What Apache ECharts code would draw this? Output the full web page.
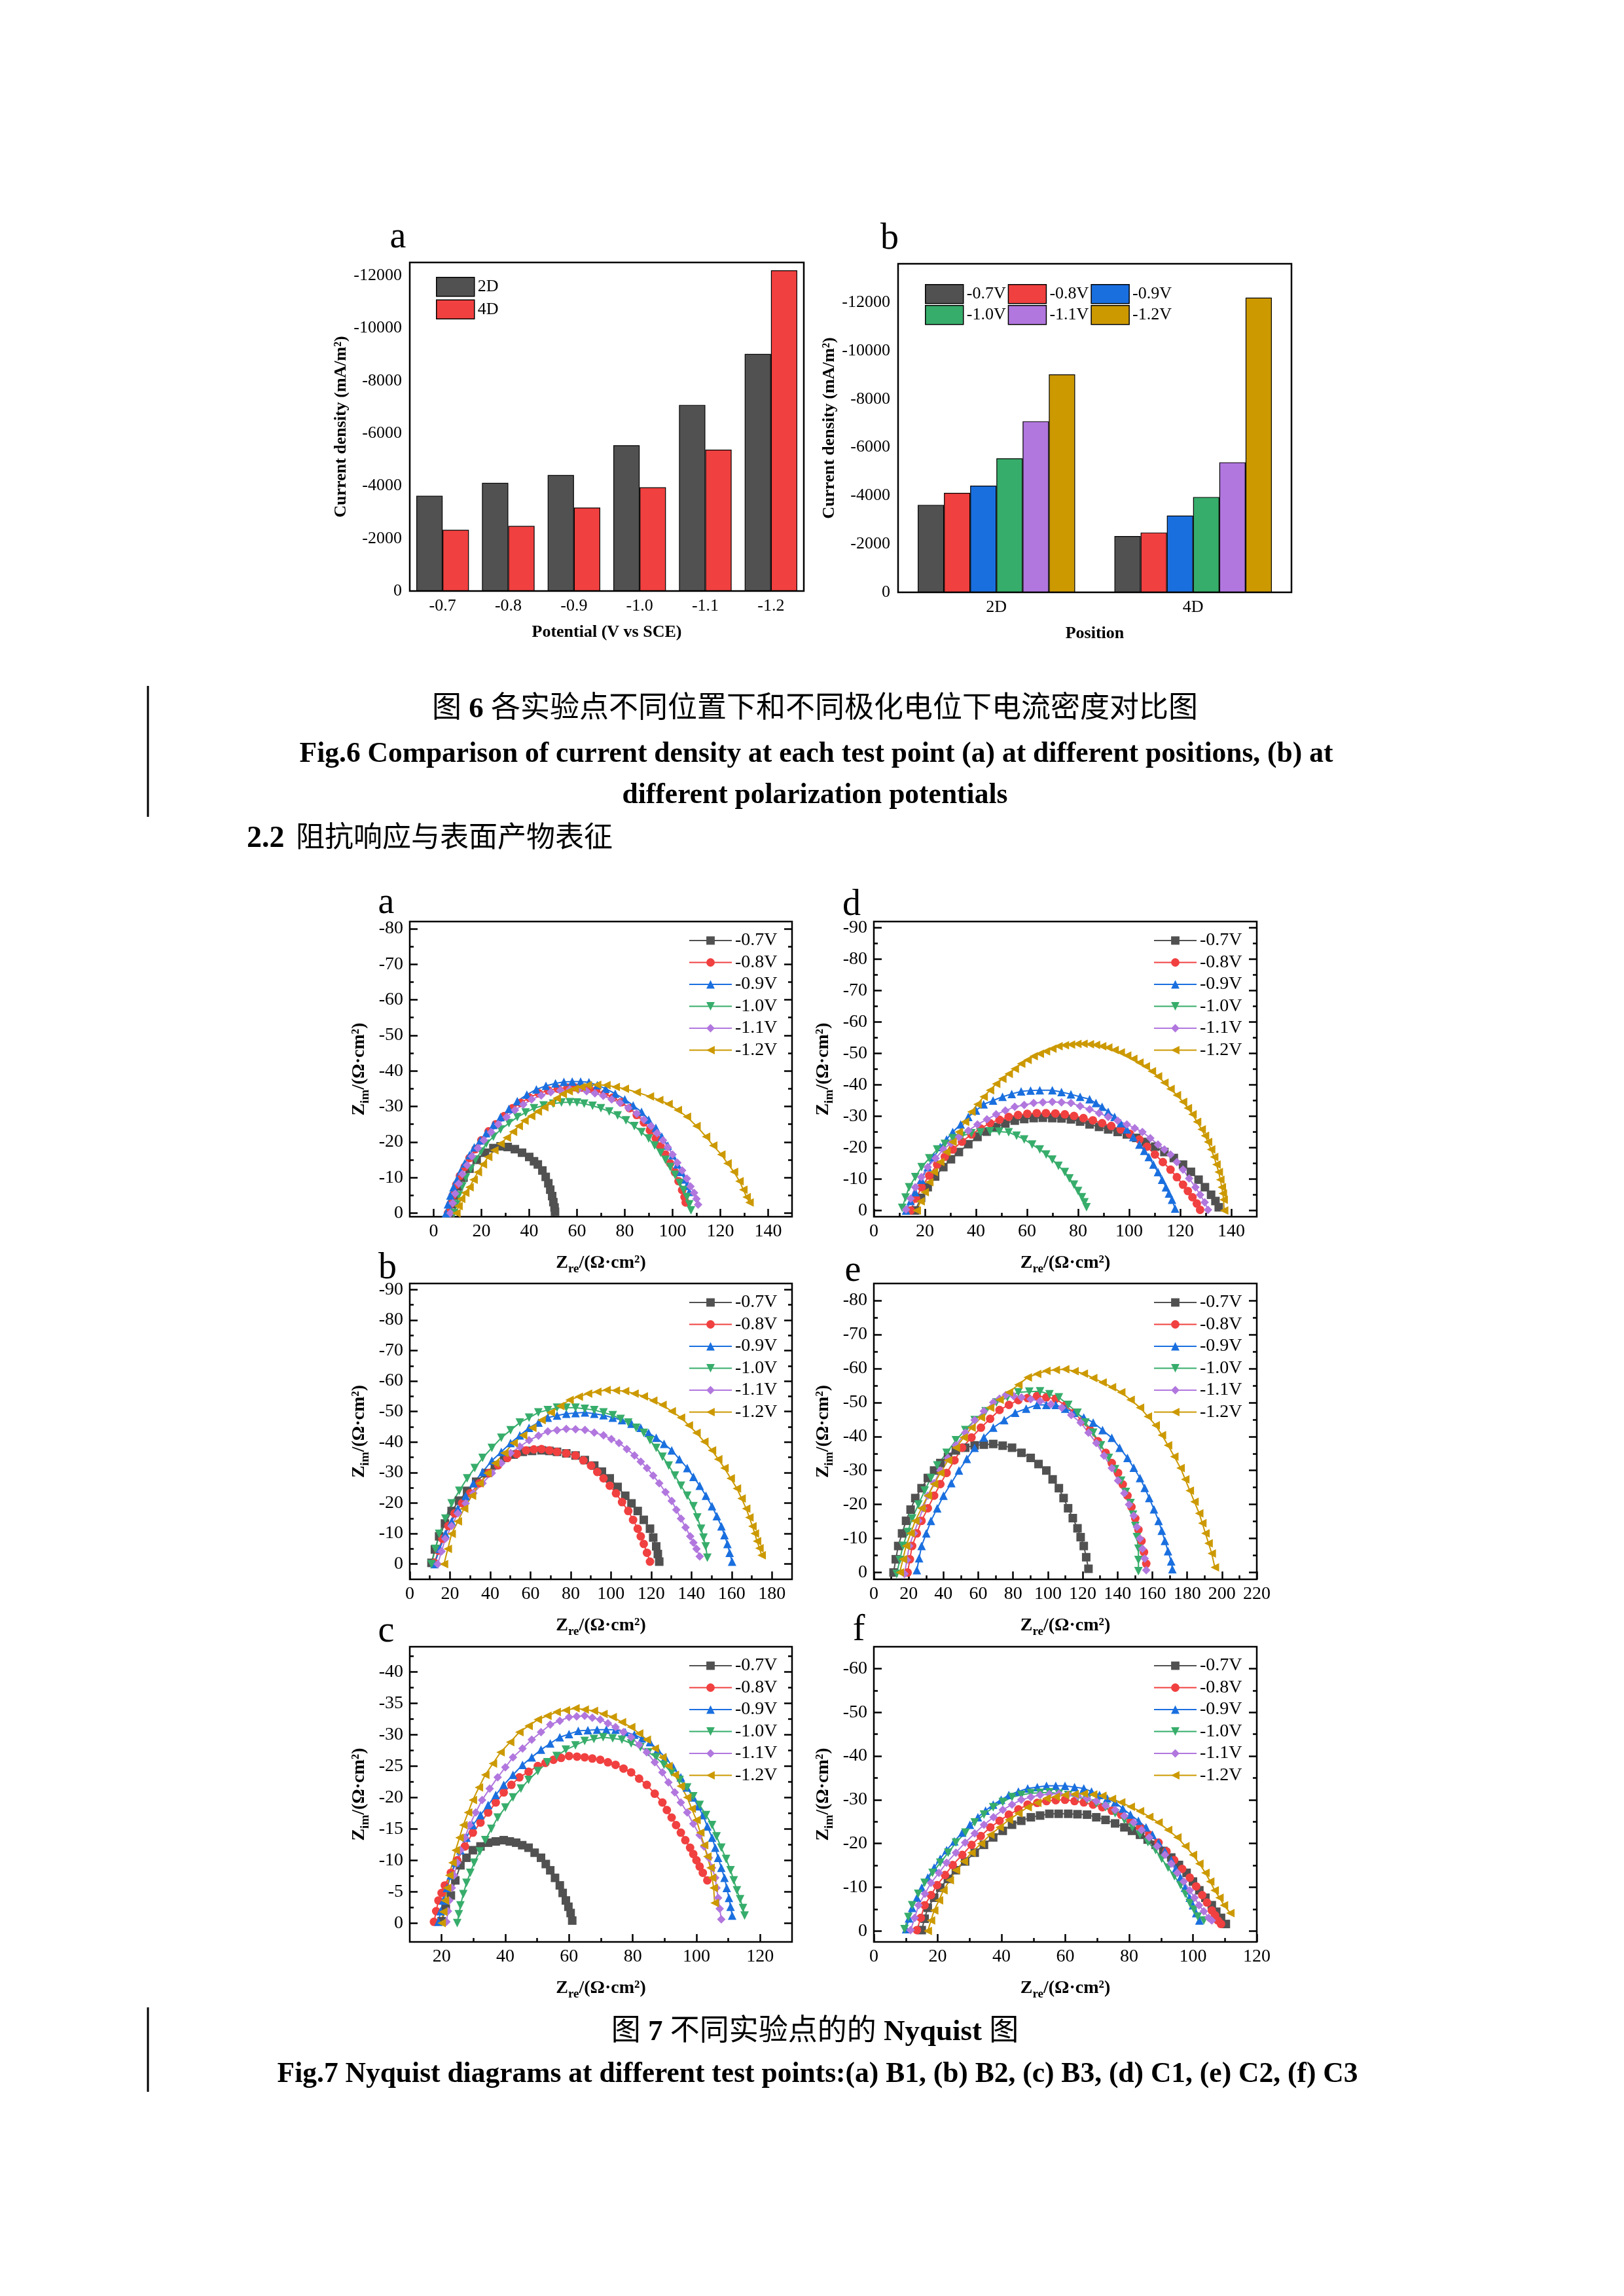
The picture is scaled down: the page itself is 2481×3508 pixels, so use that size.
<!DOCTYPE html>
<html><head><meta charset="utf-8">
<script src="https://cdn.jsdelivr.net/npm/echarts@6/dist/echarts.min.js"></script>
<style>html,body{margin:0;padding:0;background:#fff}#c{width:2481px;height:3508px}</style>
</head><body><div id="c"></div>
<script>
// ---------------- DATA ----------------
const POTENTIALS = ['-0.7V','-0.8V','-0.9V','-1.0V','-1.1V','-1.2V'];
const FIG6A_CATS = ['-0.7','-0.8','-0.9','-1.0','-1.1','-1.2'];
const FIG6_POSITIONS = ['2D','4D'];
const CD_2D = [-3620,-4115,-4415,-5545,-7080,-9020];
const CD_4D = [-2330,-2475,-3175,-3945,-5380,-12200];
const FIG6_YTICKS = [0,-2000,-4000,-6000,-8000,-10000,-12000];
const FIG6A_YMINOR = [-1000,-3000,-5000,-7000,-9000,-11000];
const FIG6B_YMINOR = [-1000,-3000,-5000,-7000,-9000,-11000,-13000];

const X_0_140 = [0,20,40,60,80,100,120,140];
const X_M_10_130 = [10,30,50,70,90,110,130];
const X_0_180 = [0,20,40,60,80,100,120,140,160,180];
const X_M_10_170 = [10,30,50,70,90,110,130,150,170];
const X_0_220 = [0,20,40,60,80,100,120,140,160,180,200,220];
const X_M_10_210 = [10,30,50,70,90,110,130,150,170,190,210];
const X_20_120 = [20,40,60,80,100,120];
const X_M_30_110 = [30,50,70,90,110];
const X_0_120 = [0,20,40,60,80,100,120];
const X_M_10_110 = [10,30,50,70,90,110];
const Y_0_80 = [0,-10,-20,-30,-40,-50,-60,-70,-80];
const Y_M_5_75 = [-5,-15,-25,-35,-45,-55,-65,-75];
const Y_0_90 = [0,-10,-20,-30,-40,-50,-60,-70,-80,-90];
const Y_M_5_85 = [-5,-15,-25,-35,-45,-55,-65,-75,-85];
const Y_0_40 = [0,-5,-10,-15,-20,-25,-30,-35,-40];
const Y_M_25_425 = [-2.5,-7.5,-12.5,-17.5,-22.5,-27.5,-32.5,-37.5,-42.5];
const Y_0_60 = [0,-10,-20,-30,-40,-50,-60];
const Y_M_5_55 = [-5,-15,-25,-35,-45,-55];

// (a) B1
const B1_07 = [[7,0],[7.8,-2.5],[9,-5],[10.5,-7.5],[12.5,-10],[15,-12.5],[18,-15],[21.5,-17],[25,-18.3],[28,-18.8],[31,-18.6],[34,-18],[37,-17],[40,-15.8],[42,-14.6],[43.6,-13.7],[45.5,-12],[46.9,-10.2],[48,-8.4],[48.8,-6.6],[49.6,-4.8],[50.1,-3.1],[50.6,-1.6],[50.8,-0.4]];
const B1_08 = [[6,0],[7,-2.5],[8,-5],[9.5,-8],[11,-10.5],[13,-13],[15,-15.5],[17.5,-18],[20,-20.5],[23,-23],[26,-25],[29.5,-27.3],[33,-29.5],[36.5,-31],[40,-32.5],[44,-33.7],[48,-34.5],[52,-35],[56,-35.3],[59,-35.4],[62,-35.3],[65,-35],[68,-34.5],[71.5,-33.6],[75,-32.5],[78.5,-31.2],[82,-29.5],[85,-27.6],[88,-25.5],[90.5,-23.3],[93,-21],[95,-18.8],[97,-16.5],[99,-14],[101,-11.5],[102.5,-9],[104,-6.5],[105,-4.5],[105.5,-3]];
const B1_09 = [[5.2,0],[6,-2.5],[7,-5],[8.3,-7.3],[9.8,-9.5],[11.3,-11.8],[13,-14],[15,-16.3],[17,-18.5],[19.5,-20.5],[22,-22.5],[25,-24.8],[28,-27],[31.5,-29.3],[35,-31.5],[39,-33.3],[43,-34.8],[47,-35.8],[51,-36.5],[54.5,-36.9],[58,-37],[61.5,-37],[65,-36.8],[68.5,-36],[72,-35],[76,-33.6],[80,-32],[83.5,-30.3],[87,-28.5],[90,-26.3],[93,-24],[95.5,-21.5],[98,-19],[100,-16.3],[102,-13.7],[103.5,-11.6],[105,-9.5],[106,-7.7],[107,-6]];
const B1_10 = [[8.5,0],[9.4,-2.5],[10.5,-5],[12,-7.5],[13.5,-10],[15.5,-12.5],[17.5,-15],[19.8,-17.3],[22,-19.5],[25,-21.5],[28,-23.5],[31.5,-25.3],[35,-27],[38.5,-28.3],[42,-29.5],[46,-30.3],[50,-30.8],[53.5,-31.1],[57,-31.2],[60,-31.1],[63,-30.8],[66.5,-30.2],[70,-29.5],[73.5,-28.6],[77,-27.5],[80.5,-26.1],[84,-24.5],[87,-22.8],[90,-21],[92.5,-19],[95,-17],[97,-15],[99,-13],[101,-10.8],[103,-8.5],[104.6,-6.5],[106,-4.5],[107,-2.5],[107.7,-0.8]];
const B1_11 = [[7,0],[8,-2.8],[9,-5.5],[10.5,-8.3],[12,-11],[14,-13.5],[16,-16],[18.5,-18.3],[21,-20.5],[24,-22.8],[27,-25],[30.5,-27],[34,-29],[37.5,-30.5],[41,-32],[45,-33.1],[49,-34],[53,-34.5],[57,-34.8],[60.5,-34.7],[64,-34.3],[67.5,-33.7],[71,-33],[74.5,-32],[78,-31],[81.5,-29.6],[85,-28],[88,-26.3],[91,-24.5],[93.5,-22.5],[96,-20.5],[98,-18.5],[100,-16.5],[102,-14.2],[104,-12],[106,-9.7],[107.5,-7.5],[109,-5.7],[110,-4],[110.7,-2.4]];
const B1_12 = [[9.5,0],[10.4,-2],[11.5,-4],[13.2,-5.7],[15,-7.3],[16.7,-9.4],[18.5,-11.5],[20.6,-13.7],[22.8,-15.8],[25.4,-17.7],[28,-19.5],[30.6,-21.2],[33.2,-22.9],[35.6,-24.5],[38,-26],[40.8,-27.3],[43.6,-28.6],[46.3,-29.8],[49,-31],[51.5,-32.3],[54,-33.5],[56.5,-34.3],[59,-35],[61.8,-35.5],[64.5,-36],[68.4,-36.1],[72.3,-36],[76.2,-35.5],[80,-35],[85,-34],[90.5,-32.8],[94.4,-31.8],[98.3,-30.7],[102.2,-29],[106,-27.1],[110,-24.5],[114,-21.5],[117,-19],[120.4,-16.5],[123,-14],[125.7,-11.6],[128,-9],[129.6,-6.6],[131,-4.5],[132.2,-3]];

// (d) C1
const C1_07 = [[16.2,0],[18.5,-4],[21.1,-7.4],[24,-10.8],[27.2,-13.8],[30.2,-16.3],[33.3,-18.6],[37,-21.1],[40.6,-23.4],[44.2,-25.1],[47.9,-26.6],[51.5,-27.7],[55.2,-28.6],[58.9,-29.1],[62.6,-29.4],[66.2,-29.5],[69.9,-29.4],[73.5,-29.3],[77.2,-29],[80.8,-28.3],[84.5,-27.4],[88.2,-26.6],[91.8,-25.8],[95.5,-25],[99.1,-24.2],[102.8,-23.1],[106.5,-21.8],[110.2,-20.3],[113.8,-18.6],[117.5,-16.7],[121.1,-14.6],[124.2,-12.3],[127.2,-9.8],[129.7,-7.4],[132.1,-5],[133.8,-3],[135.1,-1]];
const C1_08 = [[14.4,0],[16.5,-3.8],[18.7,-7.4],[21.7,-11.1],[24.8,-14.6],[27.8,-17.1],[30.9,-19.4],[34.5,-21.9],[38.2,-24.2],[41.8,-26.1],[45.5,-27.8],[49.2,-28.9],[52.8,-29.8],[56.5,-30.4],[60.1,-30.8],[63.8,-31],[67.4,-31],[71.1,-30.9],[74.8,-30.6],[78.4,-30.1],[82.1,-29.4],[85.8,-28.7],[89.4,-27.8],[93,-26.9],[96.7,-25.8],[100.3,-24.4],[104,-22.6],[107,-20.3],[110.1,-17.8],[113.2,-15.4],[116.2,-13],[118.7,-10.6],[121.1,-8.2],[123,-6.2],[124.8,-4.2],[126.5,-2.2],[127.8,-0.2]];
const C1_09 = [[12.6,0],[14.4,-3],[16.2,-5.8],[18.6,-9.8],[21.1,-13.8],[23.5,-17],[26,-20.2],[28.5,-22.6],[30.9,-25],[34,-27.4],[37,-29.8],[40,-31.8],[43,-33.8],[46.7,-35],[50.4,-36.2],[54,-37.1],[57.7,-37.9],[61.4,-38.2],[65,-38.3],[69.9,-38.3],[73.5,-37.7],[77.2,-37],[80.8,-36.2],[84.5,-35.4],[87,-34.2],[89.4,-33],[91.8,-31.4],[94.3,-29.8],[96.7,-27.8],[99.1,-25.8],[101.6,-23.4],[104,-21],[105.9,-19],[107.7,-17],[109.5,-14.6],[111.3,-12.2],[112.9,-9.8],[114.4,-7.4],[115.6,-5.4],[116.8,-3.4],[118,-0.6]];
const C1_10 = [[11.1,-0.8],[12.4,-4.1],[13.8,-7.4],[16.2,-10.6],[18.7,-13.8],[21.7,-16.6],[24.8,-19.4],[27.8,-21.2],[30.9,-23],[34.5,-23.8],[38.2,-24.6],[41.8,-24.9],[45.5,-25.2],[49.1,-25.1],[52.8,-24.9],[55.9,-23.8],[58.9,-22.6],[62,-21],[65,-19.4],[67.5,-17.8],[69.9,-16.2],[72.3,-14.2],[74.8,-12.2],[76.6,-10.2],[78.4,-8.2],[80,-6.2],[81.5,-4.2],[82.5,-2.6],[83.3,-1]];
const C1_11 = [[12.6,-0.3],[14.4,-3.8],[16.2,-7.4],[18.6,-10.6],[21.1,-13.8],[24.2,-16.6],[27.2,-19.4],[30.2,-21.4],[33.3,-23.4],[37,-25.4],[40.6,-27.4],[44.3,-29],[47.9,-30.6],[51.5,-31.8],[55.2,-33],[58.9,-33.6],[62.6,-34.2],[66.2,-34.4],[69.9,-34.6],[73.5,-34.4],[77.2,-34.2],[80.8,-33.2],[84.5,-32.2],[88.2,-31],[91.8,-29.8],[95.5,-28.6],[99.1,-27.4],[102.2,-26.2],[105.2,-25],[108.3,-23],[111.3,-21],[113.8,-19.4],[116.2,-17.8],[118.7,-15.4],[121.1,-13],[123.5,-10.2],[126,-7.4],[127.8,-5],[129.6,-2.6],[130.9,-0.2]];
const C1_12 = [[16.8,0],[18.3,-2.9],[19.9,-5.8],[21.7,-9],[23.5,-12.2],[26,-15.4],[28.4,-18.6],[30.8,-21.8],[33.3,-25],[35.7,-28.2],[38.2,-31.4],[40.6,-33.8],[43,-36.2],[45.5,-38.3],[47.9,-40.3],[50.3,-41.9],[52.8,-43.5],[55.2,-45.1],[57.7,-46.7],[60.2,-47.9],[62.6,-49.1],[65,-49.9],[67.4,-50.7],[69.9,-51.5],[72.3,-52.3],[74.8,-52.6],[77.2,-52.8],[79.7,-53],[82.1,-53.1],[84.6,-52.9],[87,-52.7],[89.4,-52.3],[91.8,-51.9],[94.3,-51.1],[96.7,-50.3],[99.2,-49.3],[101.6,-48.3],[104,-47.1],[106.5,-45.9],[108.9,-44.3],[111.3,-42.7],[113.8,-40.7],[116.2,-38.7],[118.7,-36.7],[121.1,-34.6],[123,-32.6],[124.8,-30.6],[126.6,-28.2],[128.4,-25.8],[129.7,-23.8],[130.9,-21.8],[132.1,-19.4],[133.3,-17],[134.2,-14.6],[135.1,-12.2],[135.7,-9.8],[136.3,-7.4],[136.7,-5.4],[137,-3.4],[137.2,0]];

// (b) B2
const B2_07 = [[10.8,-0.4],[12.5,-4.8],[14.6,-9.1],[17.5,-13.3],[20.8,-17.4],[24.5,-20.8],[28.5,-24],[33,-27],[37.7,-29.8],[42.3,-32.4],[47,-34.8],[51.6,-35.9],[56.2,-36.8],[60.8,-37.1],[65.5,-37.3],[69.4,-37.1],[73.2,-36.8],[77.8,-36.3],[82.4,-35.6],[87,-34.1],[91.7,-32.3],[95.5,-30.3],[99.4,-28.1],[103.3,-25.3],[107.1,-22.4],[110.2,-19.9],[113.3,-17.4],[116.3,-14.5],[119.4,-11.6],[121,-8.7],[122.5,-5.8],[123.3,-3.3],[124,-0.8]];
const B2_08 = [[12.3,-0.4],[14.2,-4.4],[16.2,-8.3],[19.2,-12.5],[22.3,-16.6],[26,-20],[30,-23.2],[34.7,-26.5],[39.3,-29.8],[43.9,-32.4],[48.5,-34.8],[53.2,-36.1],[57.8,-37.3],[61.7,-37.6],[65.5,-37.7],[69.4,-37.3],[73.2,-36.8],[77.8,-36.3],[82.4,-35.6],[86.3,-34],[90.1,-32.3],[93.2,-30.2],[96.3,-28.1],[99.4,-25.7],[102.5,-23.2],[105.5,-20.3],[108.6,-17.4],[111,-14.5],[113.3,-11.6],[114.8,-9.1],[116.3,-6.6],[117.9,-3.7],[119.4,-0.8]];
const B2_09 = [[12.3,0],[14.9,-5],[17.7,-9.9],[20.8,-14],[23.9,-18.2],[27.8,-22.3],[31.6,-26.5],[36.2,-30.2],[40.8,-33.9],[45.5,-36.8],[50.1,-39.7],[54.7,-42.2],[59.3,-44.7],[64,-46.4],[68.6,-48],[73.2,-48.7],[77.8,-49.3],[82.4,-49.5],[87.1,-49.7],[91.7,-49.3],[96.3,-48.8],[100.9,-48],[105.5,-47.2],[110.2,-46],[114.8,-44.7],[118.7,-43],[122.5,-41.4],[126.4,-39.4],[130.2,-37.3],[134,-34.4],[137.9,-31.5],[141,-28.6],[144.1,-25.7],[147.2,-22.4],[150.2,-19],[152.6,-15.7],[154.9,-12.4],[156.4,-9.5],[157.9,-6.6],[159,-3.7],[160.2,-0.8]];
const B2_10 = [[10.8,0],[12.7,-5],[14.6,-9.9],[17.7,-14.9],[20.8,-19.9],[24.6,-24],[28.5,-28.1],[32.3,-31.5],[36.2,-34.8],[40.8,-38.1],[45.5,-41.4],[50.1,-43.9],[54.7,-46.4],[59.3,-48],[63.9,-49.7],[68.6,-50.5],[73.2,-51.3],[77.8,-51.3],[82.4,-51.3],[87,-50.9],[91.7,-50.5],[96.3,-49.7],[100.9,-48.8],[104.8,-47.6],[108.6,-46.4],[112.5,-44.7],[116.3,-43],[119.4,-40.6],[122.5,-38.1],[125.6,-35.2],[128.7,-32.3],[131.8,-29],[134.8,-25.7],[137.9,-22.4],[141,-19],[142.9,-15.3],[144.8,-11.6],[146,-8.7],[147.1,-5.8],[147.9,-2.1]];
const B2_11 = [[13.9,0],[15.8,-4.2],[17.7,-8.3],[20.8,-12.5],[23.9,-16.6],[27.8,-19.9],[31.6,-23.2],[36.2,-26.5],[40.8,-29.8],[45.5,-33.1],[50.1,-36.4],[54.7,-38.5],[59.3,-40.6],[64,-42.1],[68.6,-43.5],[73.2,-43.9],[77.8,-44.3],[82.4,-44.2],[87.1,-44],[91.7,-43.1],[96.3,-42.2],[100.2,-41],[104,-39.7],[107.9,-37.7],[111.7,-35.6],[114.8,-33.6],[117.9,-31.5],[121,-29],[124,-26.5],[127.1,-23.6],[130.2,-20.7],[132.5,-17.8],[134.8,-14.9],[137.1,-12],[139.4,-9.1],[141,-7],[142.5,-5],[144.1,-2.5]];
const B2_12 = [[17,0],[18.9,-5],[20.8,-9.9],[23.9,-14],[27,-18.2],[30.9,-22.4],[34.7,-26.5],[38.6,-29.8],[42.4,-33.1],[47,-36.4],[51.6,-39.7],[56.3,-42.2],[60.9,-44.7],[65.5,-47.2],[70.1,-49.7],[74.8,-51.8],[79.4,-53.8],[84,-54.9],[88.6,-55.9],[93.2,-56.5],[97.8,-57.1],[102.4,-56.9],[107,-56.7],[111.7,-55.9],[116.3,-55],[121,-53.6],[125.6,-52.2],[130.2,-50.1],[134.8,-48],[138.7,-45.5],[142.5,-43],[146.4,-40.1],[150.2,-37.3],[153.3,-34.4],[156.4,-31.5],[159.5,-28.1],[162.6,-24.8],[164.9,-21.5],[167.2,-18.2],[168.8,-15.3],[170.3,-12.4],[171.5,-10],[172.6,-7.5],[173.8,-5.2],[174.9,-2.9]];

// (e) C2
const C2_07 = [[11.3,0],[12.6,-3.9],[14,-7.8],[16.2,-11.5],[18.5,-15.2],[21.1,-18.5],[23.8,-21.9],[27.4,-24.8],[31,-27.8],[34.6,-30],[38.2,-32.2],[42.6,-34],[47.1,-35.9],[52.5,-36.7],[57.9,-37.4],[63.2,-37.6],[68.6,-37.8],[74,-37.3],[79.4,-36.7],[84.8,-35.2],[90.1,-33.7],[94.6,-31.9],[99.1,-30],[102.7,-27.4],[106.3,-24.8],[109,-21.9],[111.6,-18.9],[114.3,-16],[117,-13],[118.8,-10.4],[120.6,-7.8],[122,-4.5],[123.3,-1.1]];
const C2_08 = [[19.4,0],[20.7,-3.9],[22,-7.8],[24.7,-11.5],[27.4,-15.2],[31,-18.9],[34.6,-22.6],[38.2,-26],[41.8,-29.3],[46.3,-33],[50.7,-36.7],[56.1,-39.7],[61.5,-42.6],[66.8,-45.2],[72.2,-47.8],[77.6,-49.3],[83,-50.7],[88.3,-51.3],[93.7,-51.9],[99.1,-51.5],[104.5,-51.1],[109.9,-49.1],[115.2,-47],[119.7,-44.5],[124.2,-41.9],[128.7,-38.6],[133.2,-35.2],[136.7,-32.2],[140.3,-29.3],[143,-25.9],[145.7,-22.6],[148,-19.3],[150.2,-15.9],[152,-12.6],[153.8,-9.3],[155.2,-6],[156.5,-2.6]];
const C2_09 = [[24.7,-0.7],[26,-4.2],[27.4,-7.8],[30.1,-11.5],[32.8,-15.2],[36.4,-18.9],[40,-22.6],[44.5,-26.3],[48.9,-30],[53.4,-33.4],[57.9,-36.7],[63.2,-39.7],[68.6,-42.6],[74.9,-44.8],[81.2,-47],[87.5,-48.2],[93.7,-49.3],[99.1,-49.3],[104.5,-49.3],[109.9,-48.2],[115.2,-47],[120.6,-45.6],[126,-44.1],[131.4,-41.9],[136.7,-39.6],[141.2,-36.7],[145.7,-33.7],[149.3,-30.8],[152.9,-27.8],[155.6,-24.9],[158.2,-21.9],[160.9,-18.6],[163.6,-15.2],[165.4,-12.3],[167.2,-9.3],[169,-6.3],[170.8,-3.3],[171.5,-1]];
const C2_10 = [[13.1,0.4],[14.9,-3.7],[16.7,-7.8],[19.4,-11.9],[22,-15.9],[25.6,-20],[29.2,-24.1],[32.8,-27.8],[36.4,-31.5],[41.8,-35.2],[47.1,-38.9],[52.5,-41.9],[57.9,-44.8],[64.2,-47.4],[70.4,-50],[76.7,-51.5],[83,-53],[89.3,-53.2],[95.5,-53.3],[100.9,-52.4],[106.3,-51.5],[111.7,-49.3],[117,-47],[121.5,-44.1],[126,-41.1],[130.5,-37.4],[135,-33.7],[138.6,-30.4],[142.1,-27],[144.8,-23.7],[147.5,-20.4],[148.9,-17],[150.2,-13.7],[151.1,-10.4],[152,-7],[152,-3.7],[152,-0.4]];
const C2_11 = [[17.6,0.4],[19,-3.7],[20.3,-7.8],[23,-11.5],[25.6,-15.2],[28.3,-18.9],[31,-22.6],[34.6,-26.3],[38.2,-30],[42.6,-33.7],[47.1,-37.4],[52.5,-41.1],[57.9,-44.8],[63.2,-47.4],[68.6,-50],[72.2,-51.1],[75.8,-52.2],[80.3,-51.9],[84.8,-51.5],[90.1,-51],[95.5,-50.4],[101.7,-49.5],[108,-48.5],[113.4,-46.3],[118.8,-44.1],[123.3,-41.1],[127.8,-38.1],[132.2,-34.4],[136.7,-30.7],[140.3,-27],[143.9,-23.3],[146.6,-20],[149.3,-16.7],[151.1,-13.4],[152.9,-10],[154.3,-7],[155.6,-4.1],[156.5,-0.7]];
const C2_12 = [[14.9,0],[16.7,-3.9],[18.5,-7.8],[21.1,-11.5],[23.8,-15.2],[27.4,-18.9],[31,-22.6],[34.6,-26],[38.2,-29.3],[42.6,-33],[47.1,-36.7],[51.6,-39.7],[56.1,-42.6],[61.5,-45.6],[66.8,-48.5],[72.2,-50.8],[77.6,-53],[83,-55.2],[88.4,-57.4],[93.8,-58.4],[99.1,-59.3],[104.5,-59.6],[109.9,-59.8],[115.3,-59.2],[120.6,-58.5],[126,-57.2],[131.4,-55.9],[136.8,-54.5],[142.1,-53],[147.5,-50.8],[152.9,-48.5],[157.4,-45.9],[161.9,-43.3],[165.5,-40.4],[169,-37.4],[172.6,-34.1],[176.2,-30.7],[178.9,-27.4],[181.5,-24.1],[184.2,-20.8],[186.9,-17.4],[188.7,-14.5],[190.5,-11.5],[192.3,-8.6],[194.1,-5.6],[195.9,-1.5]];

// (c) B3
const B3_07 = [[20,-0.3],[21.3,-2.3],[22.9,-4.4],[24.3,-6.8],[25.9,-9.2],[27.8,-10.4],[29.8,-11.6],[32.2,-12.2],[34.6,-12.8],[37,-13],[39.5,-13.2],[41.4,-13],[43.4,-12.8],[45.3,-12.4],[47.3,-12],[49.2,-11.2],[51.2,-10.4],[52.7,-9.4],[54.1,-8.4],[55.6,-7.2],[57.1,-6],[58,-4.8],[59,-3.6],[59.8,-2.6],[60.5,-1.6],[61,-0.4]];
const B3_08 = [[17.6,-0.2],[18.3,-1.9],[19,-3.6],[20,-4.8],[21,-6],[22.9,-8],[24.9,-10],[27.3,-12.2],[29.8,-14.4],[32.2,-16],[34.6,-17.6],[37,-19.2],[39.5,-20.8],[41.9,-22],[44.4,-23.2],[47.3,-24.1],[50.2,-25],[52.6,-25.5],[55.1,-26],[57.5,-26.3],[60,-26.6],[62.5,-26.5],[64.9,-26.4],[67.3,-26.2],[69.8,-26],[72.2,-25.6],[74.6,-25.2],[77.1,-24.6],[79.5,-24],[82,-23],[84.4,-22],[86.9,-20.6],[89.3,-19.2],[90.7,-18],[92.2,-16.8],[93.6,-15.6],[95.1,-14.4],[96.5,-13.2],[98,-12],[99,-11],[100,-10],[101,-9],[102,-8],[103.4,-6.8]];
const B3_09 = [[19,-0.2],[19.7,-1.9],[20.5,-3.6],[21.7,-5.6],[22.9,-7.6],[24.4,-9.6],[25.9,-11.6],[27.8,-13.6],[29.8,-15.6],[32.2,-17.2],[34.6,-18.8],[37,-20.4],[39.5,-22],[42.4,-23.6],[45.4,-25.2],[48.3,-26.4],[51.2,-27.6],[54.1,-28.6],[57.1,-29.6],[60,-30.1],[62.9,-30.6],[65.9,-30.7],[68.8,-30.8],[71.7,-30.8],[74.6,-30.8],[77.6,-30.4],[80.5,-30],[82.9,-29.4],[85.4,-28.8],[87.8,-27.6],[90.2,-26.4],[92.7,-24.8],[95.1,-23.2],[97,-21.6],[99,-20],[100.5,-18.6],[102,-17.2],[103.4,-15.4],[104.9,-13.6],[105.9,-12],[106.8,-10.4],[107.8,-8.8],[108.8,-7.2],[109.5,-5.6],[110.2,-4],[110.7,-2.6],[111.2,-1.2]];
const B3_10 = [[24.9,0],[25.4,-1.4],[25.9,-2.8],[26.8,-4.6],[27.8,-6.4],[29,-8],[30.2,-9.6],[32,-11.4],[33.7,-13.2],[35.6,-15],[37.6,-16.8],[40,-18.4],[42.4,-20],[44.9,-21.4],[47.3,-22.8],[50.2,-24.2],[53.2,-25.6],[56.1,-26.6],[59,-27.6],[62,-28.3],[64.9,-29],[67.8,-29.3],[70.7,-29.6],[73.7,-29.4],[76.6,-29.2],[79.5,-28.6],[82.4,-28],[84.9,-27.2],[87.3,-26.4],[89.8,-25.2],[92.2,-24],[94.7,-22.8],[97.1,-21.6],[99,-20.2],[101,-18.8],[103,-17.2],[104.9,-15.6],[106.3,-13.8],[107.8,-12],[109.3,-10.2],[110.7,-8.4],[111.7,-6.8],[112.7,-5.2],[113.7,-3.8],[114.6,-2.4],[115.1,-1.2]];
const B3_11 = [[21.5,-0.2],[22,-1.9],[22.4,-3.6],[23.2,-5.6],[23.9,-7.6],[24.9,-9.6],[25.9,-11.6],[27.3,-13.6],[28.8,-15.6],[30.7,-17.6],[32.7,-19.6],[35.1,-21.4],[37.6,-23.2],[40,-24.8],[42.4,-26.4],[45.4,-27.8],[48.3,-29.2],[51.2,-30.4],[54.1,-31.6],[57.1,-32.2],[60,-32.8],[62.4,-32.9],[64.9,-33],[67.3,-32.7],[69.8,-32.4],[72.2,-31.8],[74.6,-31.2],[77.1,-30.4],[79.5,-29.6],[82,-28.4],[84.4,-27.2],[86.9,-25.6],[89.3,-24],[91.2,-22.4],[93.2,-20.8],[95.1,-19.2],[97.1,-17.6],[99,-15.8],[101,-14],[102.4,-12.2],[103.9,-10.4],[104.9,-8.8],[105.9,-7.2],[106.3,-5.6],[106.8,-4],[107.3,-2.3],[107.8,-0.6]];
const B3_12 = [[20,0],[20.5,-1.8],[21,-3.6],[21.7,-5.6],[22.4,-7.6],[23.4,-9.6],[24.4,-11.6],[25.6,-13.6],[26.8,-15.6],[28.3,-17.6],[29.8,-19.6],[31.7,-21.6],[33.7,-23.6],[36.1,-25.4],[38.5,-27.2],[41.5,-28.8],[44.4,-30.4],[47.3,-31.4],[50.2,-32.4],[53.2,-33],[56.1,-33.6],[59,-33.9],[62,-34.2],[64.9,-34],[67.8,-33.8],[70.8,-33.3],[73.7,-32.8],[76.6,-32],[79.5,-31.2],[82,-30.2],[84.4,-29.2],[86.9,-27.8],[89.3,-26.4],[91.2,-25],[93.2,-23.6],[95.1,-21.8],[97.1,-20],[98.5,-18.2],[100,-16.4],[101.2,-14.4],[102.4,-12.4],[103.4,-10.6],[104.4,-8.8],[104.9,-7.2],[105.4,-5.6],[105.7,-3.2]];

// (f) C3
const C3_07 = [[15,-0.2],[15.9,-2.8],[16.9,-5.3],[18.9,-7.6],[20.8,-9.9],[23.2,-11.9],[25.7,-13.9],[28.6,-15.9],[31.6,-17.9],[34.5,-19.7],[37.4,-21.4],[40.4,-22.9],[43.3,-24.3],[46.2,-25.2],[49.2,-26],[52.1,-26.4],[55,-26.8],[57.9,-26.8],[60.9,-26.8],[63.8,-26.7],[66.8,-26.6],[69.7,-26],[72.6,-25.4],[75.6,-24.6],[78.5,-23.7],[80.9,-22.9],[83.4,-22],[85.8,-20.9],[88.3,-19.7],[90.7,-18.3],[93.2,-16.8],[95.6,-15.1],[98,-13.3],[100,-11.3],[102,-9.3],[103.9,-7.6],[105.9,-5.9],[107.3,-4.4],[108.8,-3],[110.3,-1.6]];
const C3_08 = [[13.5,-0.2],[14.7,-3],[15.9,-5.9],[17.9,-8.2],[19.8,-10.5],[22.3,-12.8],[24.7,-15.1],[27.7,-17.4],[30.6,-19.7],[33.5,-21.7],[36.5,-23.7],[39.4,-25.2],[42.3,-26.6],[45.3,-27.8],[48.2,-28.9],[51.2,-29.3],[54.1,-29.7],[57,-29.9],[59.9,-30],[62.9,-29.7],[65.8,-29.4],[68.7,-28.9],[71.6,-28.3],[74.6,-27.5],[77.5,-26.6],[80.5,-25.2],[83.4,-23.7],[86.3,-22],[89.2,-20.2],[91.7,-18.2],[94.1,-16.2],[96.6,-14.2],[99,-12.2],[101,-10.2],[102.9,-8.2],[104.4,-6.5],[105.9,-4.7],[106.9,-3.6],[107.8,-2.4],[108.8,-1.6]];
const C3_09 = [[10.1,-0.4],[11,-2.9],[12,-5.3],[13.5,-7.6],[15,-9.9],[16.9,-12.2],[18.9,-14.5],[20.8,-16.5],[22.8,-18.5],[25.2,-20.5],[27.7,-22.5],[30.1,-24.3],[32.6,-26],[35,-27.5],[37.4,-28.9],[39.9,-30],[42.3,-31.1],[45.3,-31.9],[48.2,-32.6],[51.2,-32.9],[54.1,-33.2],[57,-33.2],[59.9,-33.2],[62.9,-32.9],[65.8,-32.6],[68.2,-31.9],[70.7,-31.1],[73.1,-30.3],[75.6,-29.4],[78,-28],[80.4,-26.6],[82.9,-25.2],[85.3,-23.7],[87.3,-22],[89.2,-20.2],[91.2,-18.2],[93.2,-16.2],[94.6,-14.2],[96.1,-12.2],[97.5,-9.9],[99,-7.6],[100,-5.9],[101,-4.1],[102,-2.4]];
const C3_10 = [[9.6,-0.4],[10.8,-3.2],[12,-5.9],[13.9,-8.5],[15.9,-11],[18.4,-13.3],[20.8,-15.6],[23.3,-17.9],[25.7,-20.2],[28.7,-22.5],[31.6,-24.8],[34.5,-26.6],[37.4,-28.3],[40.4,-29.5],[43.3,-30.6],[46.2,-31.1],[49.2,-31.5],[52.1,-31.6],[55,-31.7],[58,-31.4],[60.9,-31.1],[63.9,-30.6],[66.8,-30],[69.7,-29.2],[72.6,-28.3],[75.6,-26.9],[78.5,-25.4],[81,-23.7],[83.4,-22],[85.9,-20.3],[88.3,-18.5],[90.2,-16.5],[92.2,-14.5],[94.2,-12.5],[96.1,-10.5],[97.6,-8.5],[99,-6.4],[100.3,-4.9],[101.5,-3.3],[103.4,-2.4]];
const C3_11 = [[11.5,-0.2],[12.8,-3],[14,-5.9],[16,-8.5],[17.9,-11],[20.4,-13.3],[22.8,-15.6],[25.7,-17.9],[28.6,-20.2],[31.6,-22.3],[34.5,-24.3],[37.5,-26],[40.4,-27.7],[43.3,-28.9],[46.2,-30],[49.2,-30.6],[52.1,-31.1],[55,-31.3],[58,-31.4],[60.9,-31.2],[63.8,-30.9],[66.8,-30.3],[69.7,-29.7],[72.6,-28.7],[75.6,-27.7],[78.5,-26.3],[81.4,-24.8],[83.9,-23.1],[86.3,-21.4],[88.8,-19.4],[91.2,-17.4],[93.2,-15.4],[95.1,-13.3],[97.1,-11.3],[99,-9.3],[100.5,-7.6],[101.9,-5.9],[103.4,-4.5],[104.9,-3],[105.9,-2.4]];
const C3_12 = [[16.9,0],[17.9,-2.4],[18.9,-4.7],[20.4,-7],[21.8,-9.3],[23.8,-11.6],[25.7,-13.9],[28.2,-15.9],[30.6,-17.9],[33.6,-20],[36.5,-22],[39.4,-23.7],[42.3,-25.4],[45.3,-26.9],[48.2,-28.3],[51.2,-29.3],[54.1,-30.3],[57,-30.7],[59.9,-31.1],[62.9,-31.3],[65.8,-31.4],[68.7,-31.2],[71.6,-30.9],[74.6,-30.2],[77.5,-29.4],[80.5,-28.4],[83.4,-27.4],[86.3,-26.1],[89.2,-24.8],[92.2,-23.1],[95.1,-21.4],[97.6,-19.4],[100,-17.4],[102,-15.4],[103.9,-13.3],[105.4,-11.3],[106.8,-9.3],[108.3,-7.6],[109.7,-5.9],[111.7,-4.1]];

// ---------------- STYLE / BUILD ----------------
const SERIF = '"Liberation Serif","Times New Roman",serif';
const CJK = '"Liberation Serif","Noto Sans CJK SC",sans-serif';
const COLORS = ['#515151','#F14040','#1A6FDF','#37AD6B','#B177DE','#CC9900'];
const SYMBOLS = ['rect','circle','triangle','triangle','diamond','triangle'];
const ROTS = [0,0,0,180,0,90];
const AXW = 2.5;

const grids=[], xAxes=[], yAxes=[], series=[], legends=[], graphics=[];
const fmt = v => String(v);
const tickStyle = {color:'#000', width:AXW};
const labelStyle = (fs, m) => ({color:'#000', fontFamily:SERIF, fontSize:fs, margin:m, formatter:fmt});
const boldName = fs => ({color:'#000', fontFamily:SERIF, fontWeight:'bold', fontSize:fs});
const zRich = fs => ({
  color:'#000', fontFamily:SERIF, fontWeight:'bold', fontSize:fs,
  rich:{
    b:{color:'#000', fontFamily:SERIF, fontWeight:'bold', fontSize:fs, lineHeight:38, verticalAlign:'middle'},
    s:{color:'#000', fontFamily:SERIF, fontWeight:'bold', fontSize:Math.round(fs*0.68), lineHeight:38, verticalAlign:'bottom'}
  }
});

function letter(x, y, t){
  graphics.push({type:'text', x:x, y:y, silent:true,
    style:{text:t, font:'56px '+SERIF, fill:'#000', align:'center', verticalAlign:'middle', textAlign:'center', textVerticalAlign:'middle'}});
}

function nyquist(p){
  const gi = grids.length;
  grids.push({left:p.left, top:p.top, width:p.w, height:p.h, show:true, borderColor:'#000', borderWidth:AXW, backgroundColor:'rgba(0,0,0,0)'});
  const xi = xAxes.length;
  const xc = {type:'value', gridIndex:gi, min:p.x[0], max:p.x[1], splitLine:{show:false}, axisLine:{show:false, onZero:false}, position:'bottom'};
  xAxes.push(Object.assign({}, xc, {
    axisTick:{inside:true, length:12, customValues:p.xMaj, lineStyle:tickStyle},
    axisLabel:Object.assign(labelStyle(28, 9), {customValues:p.xMaj}),
    name:'{b|Z}{s|re}{b|/(Ω·cm²)}', nameLocation:'middle', nameGap:52, nameTextStyle:zRich(28)
  }));
  xAxes.push(Object.assign({}, xc, {axisTick:{inside:true, length:6, customValues:p.xMin, lineStyle:tickStyle}, axisLabel:{show:false}}));
  const yi = yAxes.length;
  const yc = {type:'value', gridIndex:gi, min:p.y[0], max:p.y[1], inverse:true, splitLine:{show:false}, axisLine:{show:false, onZero:false}};
  yAxes.push(Object.assign({}, yc, {position:'left',
    axisTick:{inside:true, length:12, customValues:p.yMaj, lineStyle:tickStyle},
    axisLabel:Object.assign(labelStyle(28, 10), {customValues:p.yMaj}),
    name:'{b|Z}{s|im}{b|/(Ω·cm²)}', nameLocation:'middle', nameGap:58, nameRotate:90, nameTextStyle:zRich(28)
  }));
  yAxes.push(Object.assign({}, yc, {position:'left', axisTick:{inside:true, length:6, customValues:p.yMin, lineStyle:tickStyle}, axisLabel:{show:false}}));
  yAxes.push(Object.assign({}, yc, {position:'right', axisTick:{inside:true, length:12, customValues:p.yMaj, lineStyle:tickStyle}, axisLabel:{show:false}}));
  yAxes.push(Object.assign({}, yc, {position:'right', axisTick:{inside:true, length:6, customValues:p.yMin, lineStyle:tickStyle}, axisLabel:{show:false}}));
  p.curves.forEach((d, k) => series.push({
    type:'line', name:POTENTIALS[k], xAxisIndex:xi, yAxisIndex:yi, data:d,
    symbol:SYMBOLS[k], symbolRotate:ROTS[k], symbolSize:13, showAllSymbol:true,
    itemStyle:{color:COLORS[k]}, lineStyle:{color:COLORS[k], width:2}, silent:true, animation:false
  }));
  legends.push({orient:'vertical', left:p.left + p.w - 158, top:p.top + 15, itemWidth:65, itemHeight:16, itemGap:5.5,
    padding:0, selectedMode:false, data:POTENTIALS.slice(),
    textStyle:{color:'#000', fontFamily:SERIF, fontSize:28, lineHeight:28}});
  letter(p.lx, p.ly, p.label);
}

nyquist({label:'a', lx:590, ly:1380, left:626, top:1408, w:584, h:451, x:[-10,150], y:[-82,1], xMaj:X_0_140, xMin:X_M_10_130, yMaj:Y_0_80, yMin:Y_M_5_75, curves:[B1_07,B1_08,B1_09,B1_10,B1_11,B1_12]});
nyquist({label:'d', lx:1301, ly:1383, left:1335, top:1408, w:585, h:451, x:[0,150], y:[-92,2], xMaj:X_0_140, xMin:X_M_10_130, yMaj:Y_0_90, yMin:Y_M_5_85, curves:[C1_07,C1_08,C1_09,C1_10,C1_11,C1_12]});
nyquist({label:'b', lx:592, ly:1938, left:626, top:1961, w:584, h:452, x:[0,190], y:[-92,5], xMaj:X_0_180, xMin:X_M_10_170, yMaj:Y_0_90, yMin:Y_M_5_85, curves:[B2_07,B2_08,B2_09,B2_10,B2_11,B2_12]});
nyquist({label:'e', lx:1303, ly:1942, left:1335, top:1961, w:585, h:452, x:[0,220], y:[-85,2], xMaj:X_0_220, xMin:X_M_10_210, yMaj:Y_0_80, yMin:Y_M_5_75, curves:[C2_07,C2_08,C2_09,C2_10,C2_11,C2_12]});
nyquist({label:'c', lx:590, ly:2493, left:626, top:2516, w:584, h:451, x:[10,130], y:[-44,3], xMaj:X_20_120, xMin:X_M_30_110, yMaj:Y_0_40, yMin:Y_M_25_425, curves:[B3_07,B3_08,B3_09,B3_10,B3_11,B3_12]});
nyquist({label:'f', lx:1312, ly:2491, left:1335, top:2516, w:585, h:451, x:[0,120], y:[-65,2.5], xMaj:X_0_120, xMin:X_M_10_110, yMaj:Y_0_60, yMin:Y_M_5_55, curves:[C3_07,C3_08,C3_09,C3_10,C3_11,C3_12]});

// ---- Fig 6 bar charts ----
function barFrame(p){
  const gi = grids.length;
  grids.push({left:p.left, top:p.top, width:p.w, height:p.h, show:true, borderColor:'#000', borderWidth:AXW, backgroundColor:'rgba(0,0,0,0)'});
  const xi = xAxes.length;
  xAxes.push({type:'category', gridIndex:gi, data:p.cats, axisLine:{show:false},
    axisTick:{inside:true, length:10, lineStyle:tickStyle},
    axisLabel:{color:'#000', fontFamily:SERIF, fontSize:26, margin:10},
    name:p.xname, nameLocation:'middle', nameGap:50, nameTextStyle:boldName(26)});
  const yi = yAxes.length;
  const yc = {type:'value', gridIndex:gi, min:p.ymin, max:0, inverse:true, splitLine:{show:false}, axisLine:{show:false, onZero:false}, position:'left'};
  yAxes.push(Object.assign({}, yc, {
    axisTick:{inside:true, length:10, customValues:FIG6_YTICKS, lineStyle:tickStyle},
    axisLabel:Object.assign(labelStyle(26, 12), {customValues:FIG6_YTICKS}),
    name:'Current density (mA/m²)', nameLocation:'middle', nameGap:92, nameRotate:90, nameTextStyle:boldName(26)}));
  yAxes.push(Object.assign({}, yc, {axisTick:{inside:true, length:5, customValues:p.yminor, lineStyle:tickStyle}, axisLabel:{show:false}}));
  letter(p.lx, p.ly, p.label);
  return {xi, yi};
}

const A = barFrame({label:'a', lx:608, ly:363, left:626, top:401, w:602, h:502, cats:FIG6A_CATS, xname:'Potential (V vs SCE)', ymin:-12500, yminor:FIG6A_YMINOR});
[['2D', CD_2D, COLORS[0]], ['4D', CD_4D, COLORS[1]]].forEach(([n, d, c]) => series.push({
  type:'bar', name:n, xAxisIndex:A.xi, yAxisIndex:A.yi, data:d, barGap:'0%', barCategoryGap:'20%',
  itemStyle:{color:c, borderColor:'#000', borderWidth:1.2}, silent:true, animation:false}));
legends.push({orient:'vertical', left:666, top:423, itemWidth:58, itemHeight:29, itemGap:4, padding:0, selectedMode:false,
  data:[{name:'2D', icon:'rect'}, {name:'4D', icon:'rect'}],
  itemStyle:{borderColor:'#000', borderWidth:1.5},
  textStyle:{color:'#000', fontFamily:SERIF, fontSize:26}});

const B = barFrame({label:'b', lx:1359, ly:365, left:1372, top:403, w:601, h:502, cats:FIG6_POSITIONS, xname:'Position', ymin:-13600, yminor:FIG6B_YMINOR});
POTENTIALS.forEach((n, k) => series.push({
  type:'bar', name:n, xAxisIndex:B.xi, yAxisIndex:B.yi, data:[CD_2D[k], CD_4D[k]], barGap:'0%', barCategoryGap:'20%',
  itemStyle:{color:COLORS[k], borderColor:'#000', borderWidth:1.2}, silent:true, animation:false}));
[[0, 434], [3, 466]].forEach(([s, top]) => legends.push({orient:'horizontal', left:1413, top:top, itemWidth:58, itemHeight:29, itemGap:3,
  padding:0, selectedMode:false,
  data:POTENTIALS.slice(s, s+3).map(n => ({name:n, icon:'rect'})),
  itemStyle:{borderColor:'#000', borderWidth:1.5},
  textStyle:{color:'#000', fontFamily:SERIF, fontSize:26, width:74}}));

// ---- captions ----
function txt(x, y, text, font, align){
  graphics.push({type:'text', x:x, y:y, silent:true,
    style:{text:text, font:font, fill:'#000', align:align||'center', verticalAlign:'middle', textAlign:align||'center', textVerticalAlign:'middle'}});
}
function richTxt(x, y, text, fs){
  graphics.push({type:'text', x:x, y:y, silent:true,
    style:{text:text, fill:'#000', align:'center', verticalAlign:'middle', textAlign:'center', textVerticalAlign:'middle',
      rich:{
        c:{fontFamily:CJK, fontSize:fs, fill:'#000', color:'#000'},
        b:{fontFamily:SERIF, fontWeight:'bold', fontSize:fs, fill:'#000', color:'#000'}
      }}});
}
richTxt(1245, 1084, '{c|图 }{b|6}{c| 各实验点不同位置下和不同极化电位下电流密度对比图}', 45);
txt(1247, 1153, 'Fig.6 Comparison of current density at each test point (a) at different positions, (b) at', 'bold 43.5px '+SERIF);
txt(1245, 1216, 'different polarization potentials', 'bold 43.5px '+SERIF);
txt(377, 1282, '2.2', 'bold 46px '+SERIF, 'left');
txt(452, 1282, '阻抗响应与表面产物表征', '44px '+CJK, 'left');
richTxt(1245, 3105, '{c|图 }{b|7}{c| 不同实验点的的 }{b|Nyquist}{c| 图}', 45);
txt(1249, 3170, 'Fig.7 Nyquist diagrams at different test points:(a) B1, (b) B2, (c) B3, (d) C1, (e) C2, (f) C3', 'bold 43.5px '+SERIF);
graphics.push({type:'line', silent:true, shape:{x1:226, y1:1048, x2:226, y2:1248}, style:{stroke:'#000', lineWidth:3}});
graphics.push({type:'line', silent:true, shape:{x1:226, y1:3067, x2:226, y2:3196}, style:{stroke:'#000', lineWidth:3}});

const chart = echarts.init(document.getElementById('c'), null, {renderer:'canvas', width:2481, height:3508});
chart.setOption({
  backgroundColor:'#fff', animation:false,
  grid:grids, xAxis:xAxes, yAxis:yAxes, series:series, legend:legends, graphic:graphics
});
</script></body></html>
